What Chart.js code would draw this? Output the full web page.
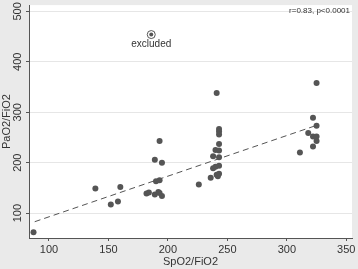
<!DOCTYPE html>
<html><head><meta charset="utf-8">
<script src="https://cdn.jsdelivr.net/npm/chart.js@4/dist/chart.umd.min.js"></script>
<style>html,body{margin:0;padding:0;background:#eaeaea}canvas{display:block}</style>
</head><body>
<canvas id="c" width="358" height="269"></canvas>
<script>
const spo2 = [87,139,152,158,160,182,184,189,192,193,195,190,193,189,195,193,226,241,243,243,243,243,240,243,238,243,243,240,238,243,241,242,236,325,322,325,318,322,325,325,322,311];
const pao2 = [62,149,117,123,152,139,141,137,142,140,134,163,165,206,200,243,157,338,267,262,256,237,225,224,213,211,194,192,189,178,176,173,170,358,289,273,259,252,252,243,232,220];
const excludedX = [186];
const excludedY = [454];
const excludedLabel = 'excluded';
const fitX = [88, 325];
const fitY = [83, 274];
const xTicks = [100, 150, 200, 250, 300, 350];
const yTicks = [100, 200, 300, 400, 500];
const statText = 'r=0.83, p<0.0001';
const xTitle = 'SpO2/FiO2';
const yTitle = 'PaO2/FiO2';

const FONT = "'Liberation Sans', Arial, Helvetica, sans-serif";
const DOT = '#555555';

const toPts = (xs, ys) => xs.map((x, i) => ({x: x, y: ys[i]}));

const bgPlugin = {
  id: 'bg',
  beforeDraw(chart) {
    const {ctx, chartArea: a} = chart;
    ctx.save();
    ctx.fillStyle = '#eaeaea';
    ctx.fillRect(0, 0, chart.width, chart.height);
    ctx.fillStyle = '#ffffff';
    ctx.fillRect(a.left, a.top, a.right - a.left, a.bottom - a.top);
    ctx.restore();
  }
};

const textPlugin = {
  id: 'texts',
  afterDatasetsDraw(chart) {
    const {ctx, chartArea: a, scales: {x, y}} = chart;
    ctx.save();
    ctx.fillStyle = '#333333';
    ctx.font = '10px ' + FONT;
    ctx.textAlign = 'center';
    ctx.textBaseline = 'top';
    ctx.fillText(excludedLabel, x.getPixelForValue(excludedX[0]), y.getPixelForValue(excludedY[0]) + 5);
    ctx.font = '8px ' + FONT;
    ctx.textAlign = 'right';
    ctx.textBaseline = 'middle';
    ctx.fillText(statText, a.right - 2, a.top + 6);
    ctx.restore();
  }
};

new Chart(document.getElementById('c'), {
  type: 'scatter',
  data: {
    datasets: [
      {
        type: 'line',
        data: toPts(fitX, fitY),
        borderColor: '#555555',
        borderWidth: 1,
        borderDash: [6, 4],
        pointRadius: 0,
        fill: false,
        order: 3
      },
      {
        data: toPts(spo2, pao2),
        backgroundColor: DOT,
        borderWidth: 0,
        pointRadius: 3,
        order: 1
      },
      {
        data: toPts(excludedX, excludedY),
        backgroundColor: 'rgba(0,0,0,0)',
        borderColor: DOT,
        borderWidth: 1,
        pointRadius: 4,
        order: 2
      },
      {
        data: toPts(excludedX, excludedY),
        backgroundColor: DOT,
        borderWidth: 0,
        pointRadius: 2,
        order: 2
      }
    ]
  },
  options: {
    responsive: false,
    animation: false,
    devicePixelRatio: 1,
    layout: {padding: {left: 0, right: 6, top: 4, bottom: 0}},
    plugins: {legend: {display: false}, tooltip: {enabled: false}},
    scales: {
      x: {
        type: 'linear',
        min: 83.2,
        max: 354.8,
        afterBuildTicks: s => { s.ticks = xTicks.map(v => ({value: v})); },
        afterFit: s => { s.height = 31; },
        border: {display: true, color: '#555555', width: 1},
        grid: {drawOnChartArea: false, drawTicks: true, tickLength: 3, tickColor: '#555555'},
        ticks: {color: '#333333', font: {family: FONT, size: 11}, padding: 2, maxRotation: 0},
        title: {display: true, text: xTitle, color: '#333333', font: {family: FONT, size: 11}, padding: {top: 0, bottom: 0}}
      },
      y: {
        type: 'linear',
        min: 50.7,
        max: 512.4,
        afterBuildTicks: s => { s.ticks = yTicks.map(v => ({value: v})); },
        afterFit: s => { s.width = 29; },
        border: {display: true, color: '#555555', width: 1},
        grid: {color: '#e6e6e6', lineWidth: 1, drawTicks: true, tickLength: 3, tickColor: '#555555'},
        ticks: {color: '#333333', font: {family: FONT, size: 11}, padding: -1.5, minRotation: 90, maxRotation: 90, crossAlign: 'center'},
        title: {display: true, text: yTitle, color: '#333333', font: {family: FONT, size: 11}, padding: {top: 0, bottom: 0}}
      }
    }
  },
  plugins: [bgPlugin, textPlugin]
});
</script>
</body></html>
